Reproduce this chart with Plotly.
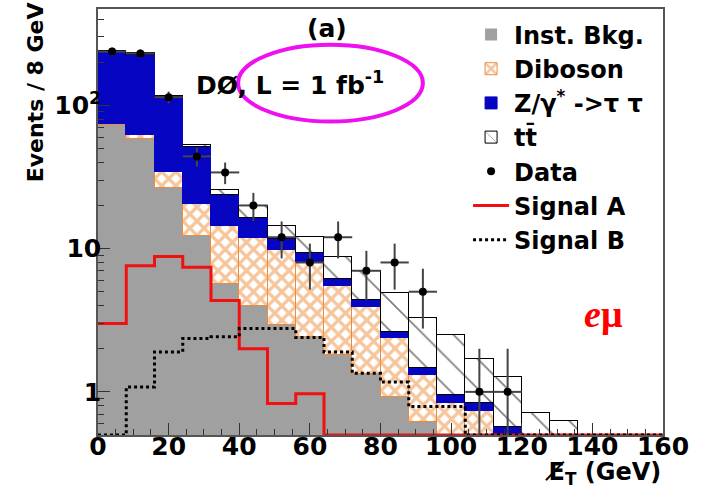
import numpy as np
import plotly.graph_objects as go

# Binning: 8 GeV bins from 0 to 160 GeV
bin_edges = np.arange(0, 161, 8)
bin_centers = bin_edges[:-1] + 4

# Stacked background expectations (events per bin)
inst_bkg = [72.6, 58.0, 26.6, 12.3, 5.7, 4.0, 2.92, 2.41, 1.80, 1.33,
            0.92, 0.62, 0.30, 0.20, 0.15, 0.10, 0.05, 0, 0, 0]
diboson = [1.2, 4.0, 7.6, 8.2, 8.7, 7.9, 6.8, 5.6, 3.65, 2.57,
           1.45, 0.69, 0.54, 0.53, 0.30, 0.10, 0.05, 0, 0, 0]
ztautau = [163.2, 162.0, 79.8, 30.5, 9.3, 4.5, 2.0, 1.24, 0.65, 0.50,
           0.24, 0.16, 0.11, 0.11, 0.12, 0.05, 0.03, 0, 0, 0]
ttbar = [1.0, 6.0, 2.0, 2.0, 1.9, 3.4, 2.7, 2.85, 2.6, 2.6,
         2.25, 1.83, 1.55, 0.85, 0.70, 0.465, 0.50, 0, 0, 0]

# Observed events
data_counts = [237, 230, 114, 44, 34, 20, 12, 8, 12, 7,
               8, 5, 0, 1, 1, 0, 0, 0, 0, 0]

# Signal hypotheses (not stacked)
signal_a = [3.0, 7.6, 8.8, 7.4, 4.35, 2.0, 0.83, 0.97, 0, 0,
            0, 0, 0, 0, 0, 0, 0, 0, 0, 0]
signal_b = [0, 1.08, 1.9, 2.36, 2.42, 2.77, 2.77, 2.4, 1.9, 1.35,
            1.17, 0.79, 0.79, 0, 0, 0, 0, 0, 0, 0]

x_range = [0, 160]
y_min, y_max = 0.5, 470

GRAY = "#A0A0A0"
ORANGE = "#EC8C3A"
BLUE = "#0606C2"
FONT = "DejaVu Sans"

fig = go.Figure()

fig.add_trace(go.Bar(
    x=bin_centers, y=inst_bkg, width=8, name="Inst. Bkg.",
    legendgroup="g1",
    marker=dict(color=GRAY, line=dict(width=0)),
))
fig.add_trace(go.Bar(
    x=bin_centers, y=diboson, width=8, name="Diboson",
    legendgroup="g2",
    marker=dict(color="white", line=dict(color=ORANGE, width=1),
                pattern=dict(shape="x", fgcolor=ORANGE, bgcolor="white",
                             size=10, solidity=0.55)),
))
fig.add_trace(go.Bar(
    x=bin_centers, y=ztautau, width=8,
    name="Z/γ<sup>*</sup> ->τ τ", legendgroup="g3",
    marker=dict(color=BLUE, line=dict(color=BLUE, width=1)),
))
fig.add_trace(go.Bar(
    x=bin_centers, y=ttbar, width=8, name="tt\u0304",
    legendgroup="g4",
    marker=dict(color="white", line=dict(color="black", width=1),
                pattern=dict(shape="\\", fgcolor="black", bgcolor="white",
                             size=21, solidity=0.08)),
))


def step_curve(values):
    """Histogram outline as a horizontal-first step line; empty bins sit on the axis floor."""
    vals = [max(v, y_min) for v in values]
    return list(bin_edges), vals + [vals[-1]]


xa, ya = step_curve(signal_a)
fig.add_trace(go.Scatter(
    x=xa, y=ya, mode="lines", line=dict(color="#F01010", width=3, shape="hv"),
    name="Signal A", legendgroup="g6",
))
xb, yb = step_curve(signal_b)
fig.add_trace(go.Scatter(
    x=xb, y=yb, mode="lines",
    line=dict(color="black", width=3, shape="hv", dash="dot"),
    name="Signal B", legendgroup="g7",
))

# Data points with Poisson errors; empty bins are not drawn
data_y = [n if n > 0 else None for n in data_counts]
data_err = [np.sqrt(n) if n > 0 else None for n in data_counts]
fig.add_trace(go.Scatter(
    x=bin_centers, y=data_y, mode="markers", name="Data", legendgroup="g5",
    marker=dict(color="black", size=8),
    error_y=dict(type="data", array=data_err, color="#444444",
                 thickness=2, width=0),
    error_x=dict(type="constant", value=4, color="#444444",
                 thickness=2, width=0),
))

# Legend order: backgrounds, data, then signals
order = {"g1": 1, "g2": 2, "g3": 3, "g4": 4, "g5": 5, "g6": 6, "g7": 7}
for tr in fig.data:
    tr.legendrank = order[tr.legendgroup]

y_minor = [m * 10 ** d for d in range(-1, 3) for m in range(2, 10)
           if y_min < m * 10 ** d < y_max]

fig.update_layout(
    width=709, height=494, autosize=False,
    margin=dict(l=98, r=46, t=7, b=59),
    paper_bgcolor="white", plot_bgcolor="white",
    barmode="stack", bargap=0,
    font=dict(family=FONT, color="black"),
    showlegend=True,
    legend=dict(
        x=0.655, y=0.992, xanchor="left", yanchor="top",
        bgcolor="rgba(0,0,0,0)", borderwidth=0,
        traceorder="grouped", tracegroupgap=0,
        font=dict(family=FONT, size=24, weight="bold", color="black"),
        itemwidth=36,
    ),
    xaxis=dict(
        range=x_range, tickmode="linear", tick0=0, dtick=20,
        ticks="inside", ticklen=12, tickwidth=1.2, tickcolor="#333",
        minor=dict(ticks="inside", dtick=5, ticklen=6, tickwidth=1, tickcolor="#333"),
        showgrid=False, zeroline=False,
        showline=True, linecolor="#555", linewidth=1.5, mirror=True,
        ticklabelstandoff=-12,
        tickfont=dict(family=FONT, size=25, weight="bold", color="black"),
    ),
    yaxis=dict(
        type="log", range=[np.log10(y_min), np.log10(y_max)],
        tickvals=[1, 10, 100], ticktext=["1", "10", "10<sup>2</sup>"],
        ticks="inside", ticklen=12, tickwidth=1.2, tickcolor="#333",
        minor=dict(ticks="inside", tickvals=y_minor, ticklen=6, tickwidth=1,
                   tickcolor="#333"),
        showgrid=False, zeroline=False,
        showline=True, linecolor="#555", linewidth=1.5, mirror=True,
        ticklabelstandoff=-10,
        tickfont=dict(family=FONT, size=25, weight="bold", color="black"),
    ),
)

fig.add_annotation(
    text="Events / 8 GeV", textangle=-90, showarrow=False,
    xref="paper", yref="paper", x=-0.11, y=1.02, xanchor="center", yanchor="top",
    font=dict(family=FONT, size=22, weight="bold", color="black"),
)
fig.add_annotation(
    text="E\u0338<sub>T</sub> (GeV)", showarrow=False,
    xref="paper", yref="paper", x=1.0, y=-0.09, xanchor="right", yanchor="middle",
    font=dict(family=FONT, size=24, weight="bold", color="black"),
)
fig.add_annotation(
    text="(a)", showarrow=False, xref="paper", yref="paper",
    x=0.405, y=0.955, xanchor="center", yanchor="middle",
    font=dict(family=FONT, size=25, weight="bold", color="black"),
)
fig.add_annotation(
    text="DØ, L = 1 fb<sup>-1</sup>", showarrow=False, xref="paper", yref="paper",
    x=0.17, y=0.825, xanchor="left", yanchor="middle",
    font=dict(family=FONT, size=25, weight="bold", color="black"),
)
fig.add_annotation(
    text="<i>e</i>μ", showarrow=False, xref="paper", yref="paper",
    x=0.895, y=0.285, xanchor="center", yanchor="middle",
    font=dict(family="Liberation Serif", size=38, weight="bold", color="#FF0000"),
)
fig.add_shape(
    type="circle", xref="paper", yref="paper",
    x0=0.248, x1=0.575, y0=0.736, y1=0.916,
    line=dict(color="#EE10EE", width=4),
)

fig.write_html("out.html")
